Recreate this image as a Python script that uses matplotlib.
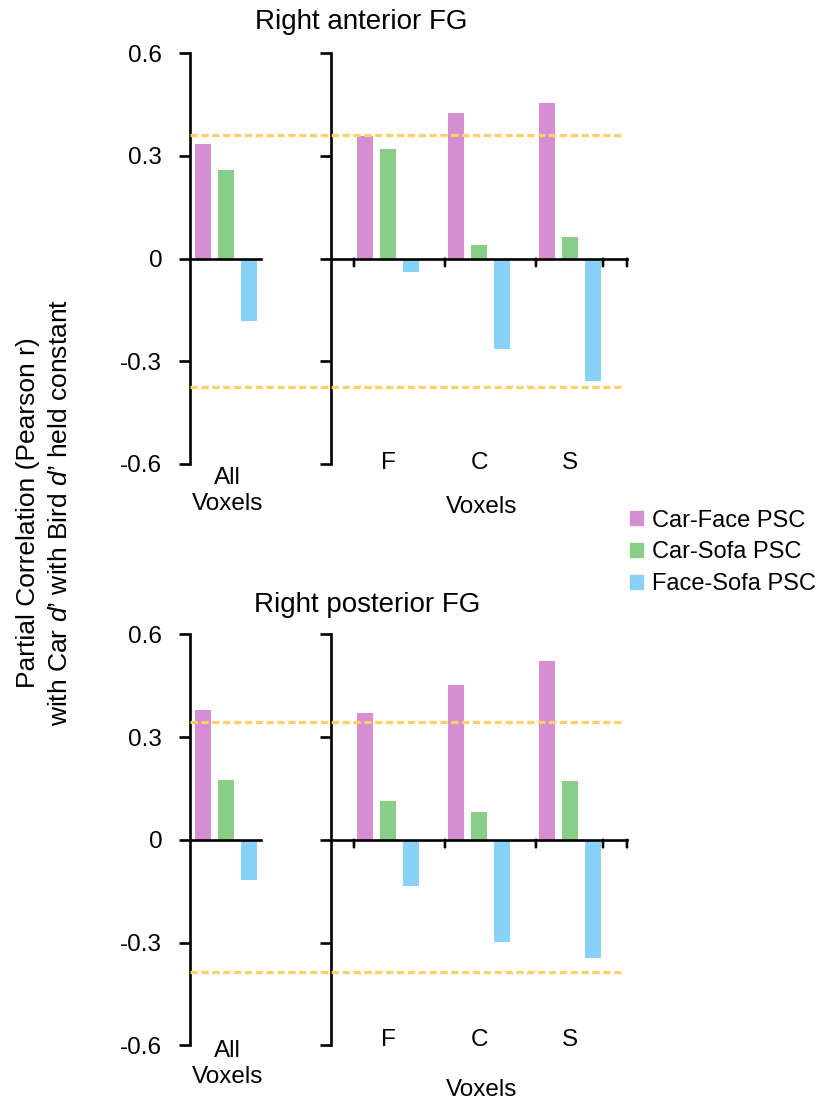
import matplotlib
matplotlib.use("Agg")
import matplotlib.pyplot as plt
import matplotlib.transforms as mtransforms
from matplotlib.lines import Line2D
from matplotlib.patches import Patch

plt.rcParams["font.family"] = ["Liberation Sans", "DejaVu Sans"]
plt.rcParams["mathtext.fontset"] = "custom"
plt.rcParams["mathtext.rm"] = "Liberation Sans"
plt.rcParams["mathtext.it"] = "Liberation Sans:italic"

# ---- data ----
series_names = ["Car-Face PSC", "Car-Sofa PSC", "Face-Sofa PSC"]
series_colors = ["#D48ED1", "#88CE88", "#88D2FA"]
voxel_groups = ["F", "C", "S"]
yticks = [-0.6, -0.3, 0, 0.3, 0.6]
ytick_labels = ["-0.6", "-0.3", "0", "0.3", "0.6"]

anterior_all = [0.335, 0.259, -0.181]
anterior_car_face = [0.357, 0.427, 0.456]
anterior_car_sofa = [0.320, 0.040, 0.063]
anterior_face_sofa = [-0.039, -0.265, -0.357]
anterior_thresholds = [0.360, -0.375]

posterior_all = [0.378, 0.176, -0.118]
posterior_car_face = [0.370, 0.452, 0.522]
posterior_car_sofa = [0.112, 0.081, 0.171]
posterior_face_sofa = [-0.135, -0.298, -0.345]
posterior_thresholds = [0.343, -0.386]

W, H = 820, 1102
fig = plt.figure(figsize=(W / 100, H / 100), dpi=100)

LW = 1.9
FS = 17.5
offsets = [-0.25, 0.0, 0.25]
bar_w = 0.176
right_ticks = [-0.374, 0.626, 1.626, 2.363, 2.626]


def px_x(p):
    return p / W


def style_axis(ax, xlim, show_labels):
    ax.set_xlim(*xlim)
    ax.set_ylim(-0.6, 0.6)
    for s in ["top", "right", "bottom"]:
        ax.spines[s].set_visible(False)
    ax.spines["left"].set_linewidth(LW)
    ax.set_yticks(yticks)
    ax.set_yticklabels(ytick_labels if show_labels else [])
    ax.tick_params(axis="y", direction="out", length=8, width=LW,
                   pad=12, labelsize=FS)
    ax.axhline(0, color="black", lw=LW, zorder=5, clip_on=False)
    ax.patch.set_alpha(0)


def panel(y_bottom, height, title, title_xy, all_vals, cf, cs, fsv,
          thresholds, lab_dy, all_dy, xlab_dy):
    axl = fig.add_axes([px_x(190), y_bottom, px_x(70.7), height])
    axr = fig.add_axes([px_x(330.7), y_bottom, px_x(296.3), height])
    style_axis(axl, (-0.3956, 0.3813), True)
    style_axis(axr, (-0.6297, 2.6264), False)

    # all-voxel bars
    for off, v, c in zip(offsets, all_vals, series_colors):
        axl.bar(off, v, width=bar_w, color=c, zorder=2)
    axl.set_xticks([])

    # F / C / S grouped bars
    xs = list(range(len(voxel_groups)))
    for off, vals, c in zip(offsets, [cf, cs, fsv], series_colors):
        axr.bar([x + off for x in xs], vals, width=bar_w, color=c, zorder=2)

    # downward ticks hanging from the zero line
    for t in right_ticks:
        axr.annotate("", xy=(t, 0), xycoords="data", xytext=(0, -7.5),
                     textcoords="offset pixels",
                     arrowprops=dict(arrowstyle="-", lw=LW, color="black",
                                     shrinkA=0, shrinkB=0))
    axr.set_xticks([])

    for x, lab in zip(xs, voxel_groups):
        tr = mtransforms.offset_copy(axr.transData, fig, y=lab_dy, units="dots")
        axr.text(x, -0.6, lab, ha="center", va="center", fontsize=FS,
                 transform=tr)
    tr = mtransforms.offset_copy(axr.transData, fig, y=xlab_dy, units="dots")
    axr.text(1.03, -0.6, "Voxels", ha="center", va="center", fontsize=FS,
             transform=tr)
    tr = mtransforms.offset_copy(axl.transData, fig, y=all_dy, units="dots")
    axl.text(0.02, -0.6, "All\nVoxels", ha="center", va="center",
             fontsize=FS, linespacing=1.25, transform=tr)

    # significance thresholds spanning both axes
    x0 = axl.get_position().x0
    pr = axr.get_position()
    x1 = pr.x0 + pr.width * (621.7 - 330.7) / 296.3
    btr = mtransforms.blended_transform_factory(fig.transFigure, axl.transData)
    for t in thresholds:
        ln = Line2D([x0, x1], [t, t], transform=btr, color="#FFCF6A",
                    lw=2.3, linestyle=(0, (2.3, 1.1)), zorder=6)
        fig.add_artist(ln)

    fig.text(px_x(title_xy[0]), 1 - title_xy[1] / H, title, ha="center",
             va="center", fontsize=20)
    return axl, axr


panel(1 - 464 / H, (464 - 53.3) / H, "Right anterior FG", (361.5, 22),
      anterior_all, anterior_car_face, anterior_car_sofa, anterior_face_sofa,
      anterior_thresholds, 1, -27, -43)
panel(1 - 1045.3 / H, (1045.3 - 634.3) / H, "Right posterior FG", (367, 605),
      posterior_all, posterior_car_face, posterior_car_sofa,
      posterior_face_sofa, posterior_thresholds, 5, -19, -45)

# shared y label
fig.text(px_x(44), 1 - 513 / H,
         "Partial Correlation (Pearson r)\n"
         "with Car $d$\u2019 with Bird $d$\u2019 held constant",
         rotation=90, ha="center", va="center", multialignment="center",
         linespacing=1.38, fontsize=19)

handles = [Patch(color=c) for c in series_colors]
fig.legend(handles, series_names, loc="center left",
           bbox_to_anchor=(630 / W, 1 - 552.5 / H), frameon=False,
           fontsize=17, handlelength=0.55, handleheight=0.55,
           handletextpad=0.4, labelspacing=0.42, borderpad=0,
           borderaxespad=0)

fig.savefig("out.png", dpi=100)
